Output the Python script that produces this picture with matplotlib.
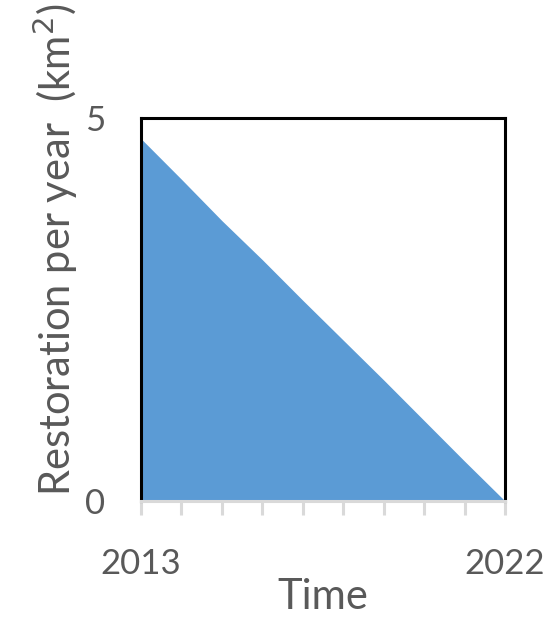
import matplotlib

matplotlib.use("Agg")

import matplotlib.pyplot as plt

years = [2013, 2014, 2015, 2016, 2017, 2018, 2019, 2020, 2021, 2022]
restoration = [4.73, 4.2, 3.66, 3.15, 2.62, 2.1, 1.58, 1.05, 0.52, 0.0]
tick_labels = ["2013", "", "", "", "", "", "", "", "", "2022"]

plt.rcParams["font.family"] = ["Lato", "DejaVu Sans"]
text_color = "#595959"
grey = "#d9d9d9"

fig = plt.figure(figsize=(5.5, 6.4), dpi=100)
ax = fig.add_axes([141 / 550, 139 / 640, 364 / 550, 383 / 640])

ax.fill_between(years, restoration, 0, color="#5B9BD5", linewidth=0)

ax.set_xlim(years[0], years[-1])
ax.set_ylim(0, 5)
ax.set_yticks([0, 5])
ax.set_yticklabels(["0", "5"])
ax.set_xticks(years)
ax.set_xticklabels(tick_labels)

for side in ("left", "right", "top"):
    ax.spines[side].set_color("black")
    ax.spines[side].set_linewidth(2.2)
ax.spines["bottom"].set_color(grey)
ax.spines["bottom"].set_linewidth(2.2)

ax.tick_params(axis="x", direction="out", length=10, width=2.2, color=grey,
               labelsize=25, labelcolor=text_color, pad=24)
ax.tick_params(axis="y", length=0, labelsize=25, labelcolor=text_color, pad=26)

fig.text(323 / 550, 1 - 597 / 640, "Time", ha="center", va="center",
         fontsize=30, color=text_color)
fig.text(55 / 550, 1 - 250 / 640, "Restoration per year  (km$^2$)",
         rotation=90, ha="center", va="center", fontsize=30, color=text_color)

fig.savefig("out.png", dpi=100)
